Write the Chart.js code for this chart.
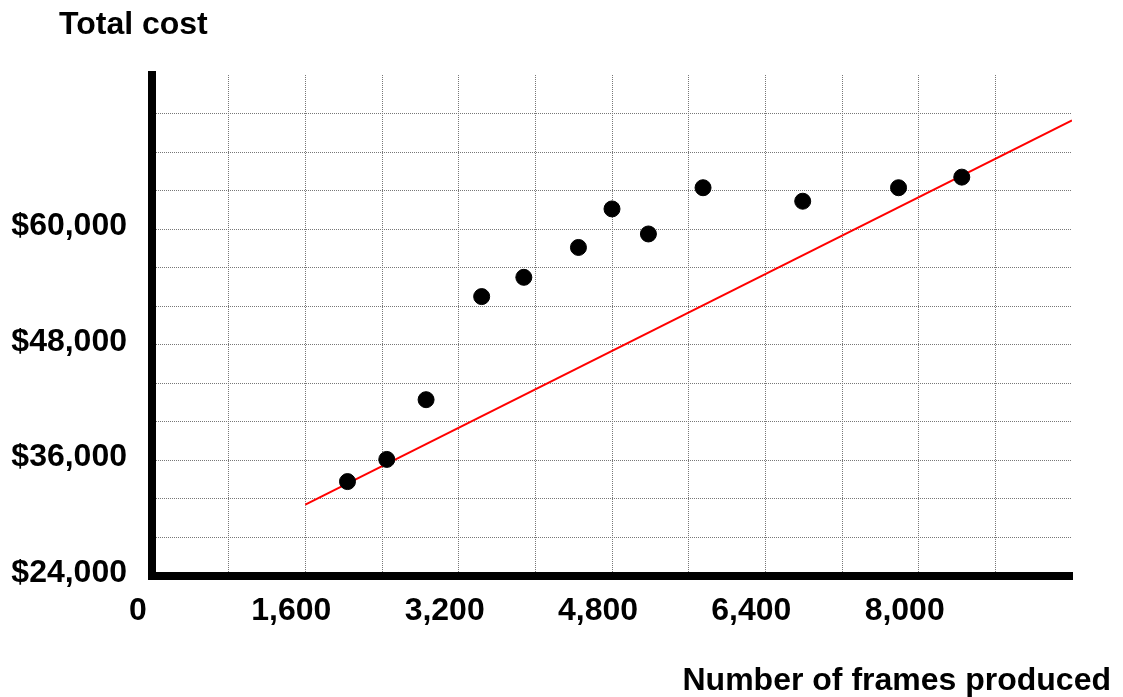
<!DOCTYPE html>
<html>
<head>
<meta charset="utf-8">
<script src="https://cdn.jsdelivr.net/npm/chart.js@4.4.1/dist/chart.umd.min.js"></script>
<style>
  html, body { margin: 0; padding: 0; background: #fff; }
  #wrap { width: 1123px; height: 697px; }
</style>
</head>
<body>
<div id="wrap"><canvas id="costChart" width="1123" height="697"></canvas></div>
<script>
// frames produced vs total cost
const frames = [2040, 2450, 2860, 3440, 3880, 4450, 4800, 5180, 5750, 6790, 7790, 8450];
const totalCost = [33800, 36100, 42300, 53000, 55000, 58100, 62100, 59500, 64300, 62900, 64300, 65400];

// red cost line end points
const lineFrames = [1600, 9600];
const lineCost = [31400, 71300];

// labelled ticks
const xTickLabels = [0, 1600, 3200, 4800, 6400, 8000];
const yTickLabels = [24000, 36000, 48000, 60000];

const xMax = 9600;
const yMax = 76000;

const fontFamily = '"Liberation Sans", Arial, sans-serif';
const boldFont = 'bold 32px ' + fontFamily;

const fmt = v => v.toLocaleString('en-US');

// axis headings: "Total cost" top left, x title under the axis, right side
const headingPlugin = {
    id: 'heading',
    afterDraw(chart) {
        const ctx = chart.ctx;
        ctx.save();
        ctx.font = boldFont;
        ctx.fillStyle = '#000';
        ctx.textBaseline = 'middle';
        ctx.textAlign = 'left';
        ctx.fillText('Total cost', 59, 25);
        ctx.textAlign = 'right';
        ctx.fillText('Number of frames produced', chart.chartArea.right + 39, 681);
        ctx.restore();
    }
};

new Chart(document.getElementById('costChart'), {
    type: 'scatter',
    data: {
        datasets: [
            {
                label: 'Total cost',
                data: frames.map((f, i) => ({ x: f, y: totalCost[i] })),
                backgroundColor: '#000',
                borderColor: '#000',
                pointRadius: 8,
                pointHoverRadius: 8
            },
            {
                type: 'line',
                label: 'Cost line',
                data: lineFrames.map((f, i) => ({ x: f, y: lineCost[i] })),
                borderColor: '#ff0000',
                borderWidth: 2,
                pointRadius: 0,
                fill: false
            }
        ]
    },
    options: {
        responsive: false,
        animation: false,
        layout: { padding: { top: 75, right: 51, left: 0, bottom: 0 } },
        plugins: {
            legend: { display: false },
            tooltip: { enabled: false }
        },
        scales: {
            x: {
                type: 'linear',
                min: 0,
                max: xMax,
                afterFit: s => { s.height = 121; },
                border: { display: true, color: '#000', width: 8, dash: [1, 1] },
                grid: {
                    color: c => c.tick && c.tick.value === xMax ? 'rgba(0,0,0,0)' : '#777',
                    lineWidth: 1,
                    drawTicks: false
                },
                ticks: {
                    stepSize: 800,
                    autoSkip: false,
                    maxRotation: 0,
                    minRotation: 0,
                    padding: 16,
                    labelOffset: -14,
                    color: '#000',
                    font: { family: fontFamily, size: 32, weight: 'bold' },
                    callback: v => xTickLabels.includes(v) ? fmt(v) : ''
                }
            },
            y: {
                type: 'linear',
                min: 24000,
                max: yMax,
                afterFit: s => { s.width = 152; },
                border: { display: true, color: '#000', width: 8, dash: [1, 1] },
                grid: {
                    color: c => c.tick && c.tick.value === yMax ? 'rgba(0,0,0,0)' : '#777',
                    lineWidth: 1,
                    drawTicks: false
                },
                ticks: {
                    stepSize: 4000,
                    autoSkip: false,
                    padding: 25,
                    labelOffset: -3,
                    color: '#000',
                    font: { family: fontFamily, size: 32, weight: 'bold' },
                    callback: v => yTickLabels.includes(v) ? '$' + fmt(v) : ''
                }
            }
        }
    },
    plugins: [headingPlugin]
});
</script>
</body>
</html>
